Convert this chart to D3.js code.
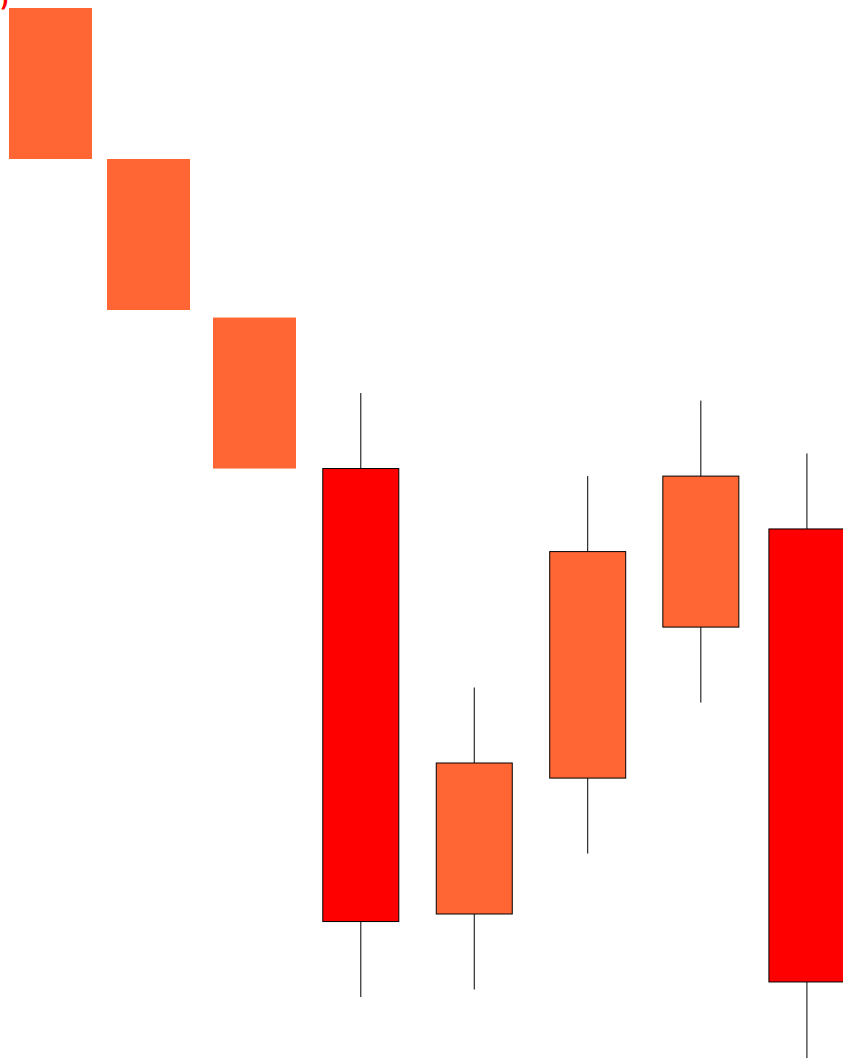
<!DOCTYPE html>
<html>
<head>
<meta charset="utf-8">
<script src="https://cdn.jsdelivr.net/npm/d3@7"></script>
<style>
  html, body { margin: 0; padding: 0; background: #fff; }
  svg { display: block; }
</style>
</head>
<body>
<div id="chart"></div>
<script>
// step blocks (no border, no wick)
const stepX = [0.445, 1.309, 2.243]
const stepTop = [14.0, 12.0, 9.9]
const stepBottom = [12.0, 10.0, 7.9]

// candles
const candleX = [3.180, 4.180, 5.180, 6.177, 7.112]
const candleOpen = [7.9, 2.0, 3.8, 5.8, 7.1]
const candleClose = [1.9, 4.0, 6.8, 7.8, 1.1]
const candleHigh = [8.9, 5.0, 7.8, 8.8, 8.1]
const candleLow = [0.9, 1.0, 2.8, 4.8, 0.0]

const width = 843
const height = 1058

const x = d3.scaleLinear().domain([0, 7.43]).range([0, width])
const y = d3.scaleLinear().domain([14, 0]).range([8, 8 + 14 * 75.5])

const svg = d3
  .select("#chart")
  .append("svg")
  .attr("width", width)
  .attr("height", height)
  .style("background", "#fff")

const steps = stepX.map((d, i) => ({ x: d, top: stepTop[i], bottom: stepBottom[i] }))
const candles = candleX.map((d, i) => ({
  x: d,
  open: candleOpen[i],
  close: candleClose[i],
  high: candleHigh[i],
  low: candleLow[i]
}))

const stepW = 83
const candleW = 76

svg
  .append("g")
  .selectAll("rect")
  .data(steps)
  .enter()
  .append("rect")
  .attr("x", (d) => x(d.x) - stepW / 2)
  .attr("y", (d) => y(d.top))
  .attr("width", stepW)
  .attr("height", (d) => y(d.bottom) - y(d.top))
  .attr("fill", "#FF6633")

const g = svg.append("g")

g.selectAll("line")
  .data(candles)
  .enter()
  .append("line")
  .attr("x1", (d) => x(d.x))
  .attr("x2", (d) => x(d.x))
  .attr("y1", (d) => y(d.high))
  .attr("y2", (d) => y(d.low))
  .attr("stroke", "#000")
  .attr("stroke-width", 1)

g.selectAll("rect")
  .data(candles)
  .enter()
  .append("rect")
  .attr("x", (d) => x(d.x) - candleW / 2)
  .attr("y", (d) => y(Math.max(d.open, d.close)))
  .attr("width", candleW)
  .attr("height", (d) => Math.abs(y(d.open) - y(d.close)))
  .attr("fill", (d) => (d.close < d.open ? "#FF0000" : "#FF6633"))
  .attr("stroke", "#000")
  .attr("stroke-width", 1)

// title, mostly off canvas
svg
  .append("text")
  .attr("x", 9)
  .attr("y", 7)
  .attr("text-anchor", "end")
  .attr("font-family", "DejaVu Sans, sans-serif")
  .attr("font-size", 20)
  .attr("font-weight", "bold")
  .attr("fill", "#FF0000")
  .text("Price (USD)")
</script>
</body>
</html>
